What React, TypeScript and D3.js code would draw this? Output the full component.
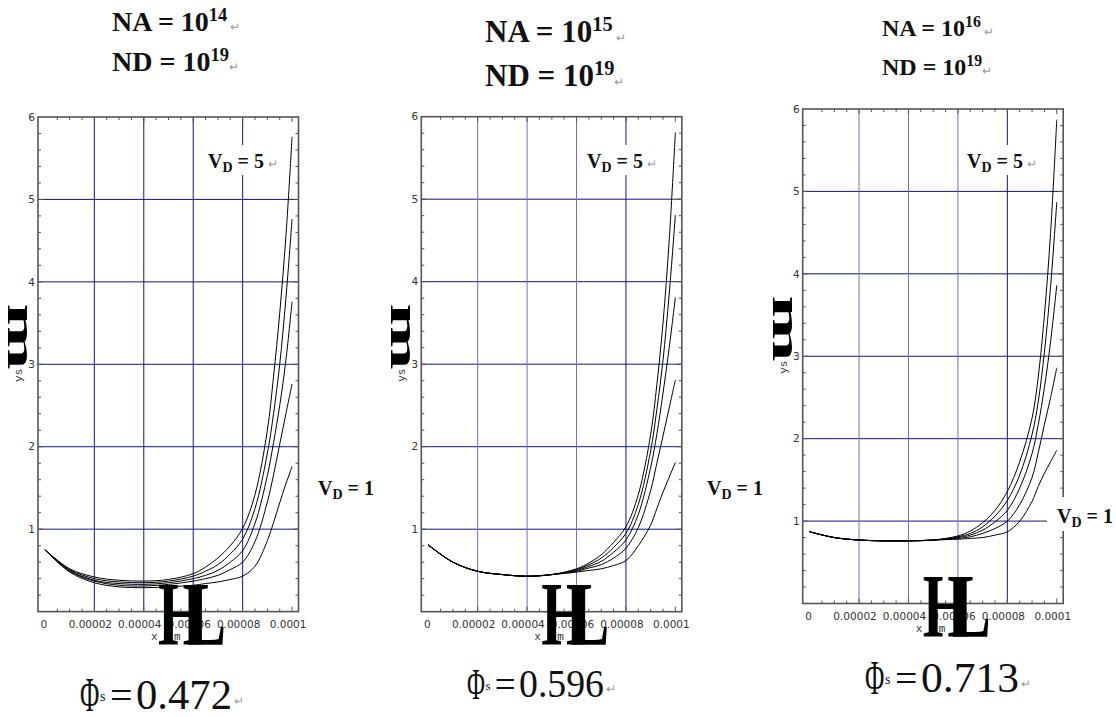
import React from 'react'
import * as d3 from 'd3'

// sample positions along x (m), shared by every curve
const xValues = [0, 0.00001, 0.00002, 0.00003, 0.00004, 0.00005, 0.00006, 0.000065, 0.00007, 0.000075, 0.00008, 0.000085, 0.00009, 0.0000925, 0.000095, 0.0000975, 0.0001]

// ys for VD = 5, 4, 3, 2, 1  (NA = 1e14)
const na14Curves = [
  [0.75, 0.52, 0.42, 0.38, 0.37, 0.39, 0.46, 0.54, 0.65, 0.80, 1.01, 1.42, 2.2, 2.85, 3.62, 4.55, 5.76],
  [0.75, 0.51, 0.40, 0.36, 0.35, 0.37, 0.43, 0.49, 0.57, 0.70, 0.88, 1.25, 1.92, 2.4, 3.0, 3.8, 4.76],
  [0.75, 0.50, 0.38, 0.34, 0.33, 0.35, 0.40, 0.44, 0.50, 0.60, 0.74, 1.07, 1.65, 2.05, 2.5, 3.05, 3.76],
  [0.75, 0.49, 0.37, 0.32, 0.31, 0.33, 0.37, 0.40, 0.44, 0.51, 0.60, 0.85, 1.33, 1.66, 2.03, 2.4, 2.76],
  [0.75, 0.48, 0.35, 0.30, 0.29, 0.30, 0.32, 0.34, 0.36, 0.39, 0.43, 0.55, 0.86, 1.08, 1.32, 1.55, 1.76]
]

// NA = 1e15
const na15Curves = [
  [0.81, 0.60, 0.49, 0.45, 0.43, 0.45, 0.52, 0.59, 0.69, 0.84, 1.03, 1.42, 2.15, 2.75, 3.5, 4.5, 5.81],
  [0.81, 0.60, 0.49, 0.45, 0.43, 0.45, 0.51, 0.57, 0.65, 0.78, 0.95, 1.3, 1.95, 2.45, 3.05, 3.85, 4.81],
  [0.81, 0.60, 0.49, 0.45, 0.43, 0.45, 0.50, 0.55, 0.61, 0.72, 0.87, 1.18, 1.75, 2.15, 2.65, 3.2, 3.81],
  [0.81, 0.60, 0.49, 0.45, 0.43, 0.45, 0.49, 0.53, 0.57, 0.65, 0.77, 1.02, 1.47, 1.8, 2.13, 2.47, 2.81],
  [0.81, 0.60, 0.49, 0.45, 0.43, 0.45, 0.48, 0.50, 0.52, 0.56, 0.62, 0.80, 1.05, 1.25, 1.45, 1.63, 1.81]
]

// NA = 1e16
const na16Curves = [
  [0.87, 0.80, 0.77, 0.76, 0.76, 0.77, 0.82, 0.88, 0.98, 1.13, 1.36, 1.72, 2.25, 2.75, 3.5, 4.5, 5.87],
  [0.87, 0.80, 0.77, 0.76, 0.76, 0.77, 0.81, 0.85, 0.93, 1.06, 1.25, 1.56, 2.05, 2.45, 3.05, 3.85, 4.87],
  [0.87, 0.80, 0.77, 0.76, 0.76, 0.77, 0.80, 0.83, 0.89, 0.99, 1.13, 1.4, 1.82, 2.17, 2.62, 3.18, 3.86],
  [0.87, 0.80, 0.77, 0.76, 0.76, 0.77, 0.79, 0.81, 0.85, 0.91, 1.0, 1.2, 1.53, 1.83, 2.17, 2.5, 2.86],
  [0.87, 0.80, 0.77, 0.76, 0.76, 0.77, 0.78, 0.79, 0.80, 0.83, 0.87, 1.0, 1.24, 1.42, 1.58, 1.72, 1.86]
]

const xTicks = [0, 0.00002, 0.00004, 0.00006, 0.00008, 0.0001]
const xTickLabels = ['0', '0.00002', '0.00004', '0.00006', '0.00008', '0.0001']
const yTicks = [1, 2, 3, 4, 5, 6]
const naExponents = ['14', '15', '16']
const ndExponent = '19'
const phiValues = ['0.472', '0.596', '0.713']

const panels = [
  { left: 38, top: 117, bottom: 611.6, curves: na14Curves, lightGrid: false,
    titleX: 112, titleY1: 31, titleY2: 71, titleSize: 28,
    vd5: { x: 208, y: 168 }, vd1: { x: 318, y: 495 }, vd1Box: false,
    phi: { x: 80, y: 709, end: 232, size: 42 } },
  { left: 421.3, top: 116.7, bottom: 611.7, curves: na15Curves, lightGrid: true,
    titleX: 485, titleY1: 42, titleY2: 86, titleSize: 31,
    vd5: { x: 587, y: 168 }, vd1: { x: 707, y: 495 }, vd1Box: false,
    phi: { x: 467, y: 697, end: 604, size: 39 } },
  { left: 802.7, top: 109, bottom: 603.5, curves: na16Curves, lightGrid: true,
    titleX: 882, titleY1: 36, titleY2: 75, titleSize: 24,
    vd5: { x: 967, y: 168 }, vd1: { x: 1057, y: 523 }, vd1Box: true,
    phi: { x: 865, y: 692, end: 1019, size: 42 } }
]

const frameW = 260.5
const navy = '#14148a'
const lightNavy = '#6f6fb8'
const frameColor = '#555'

function VLabel({ x, y, v, box }: { x: number, y: number, v: string, box?: boolean }) {
  return (
    <g>
      {box && <rect x={x - 10} y={y - 26} width={70} height={34} fill="#fff" />}
      <text x={x} y={y} fontFamily="Liberation Serif" fontWeight="bold" fontSize={20} fill="#111">
        V<tspan fontSize={14} dy={4}>D</tspan><tspan dy={-4}> = {v}</tspan>
      </text>
    </g>
  )
}

function Panel({ p, idx }: { p: any, idx: number }) {
  const right = p.left + frameW
  const x = d3.scaleLinear().domain([-0.0000028, 0.0001026]).range([p.left, right])
  const y = d3.scaleLinear().domain([0, 6]).range([p.bottom, p.top])
  const line = d3.line<number>()
    .x((_, i) => x(xValues[i]))
    .y(d => y(d))
    .curve(d3.curveCatmullRom.alpha(0.5))

  const minorX = d3.range(1, 21).map(i => i * 0.000005)
  const minorY = d3.range(1, 30).map(i => i * 0.2)
  const s = p.phi.size / 42

  return (
    <g>
      {/* titles */}
      <text x={p.titleX} y={p.titleY1} fontFamily="Liberation Serif" fontWeight="bold" fontSize={p.titleSize} fill="#111">
        NA = 10<tspan fontSize={p.titleSize * 0.66} dy={-p.titleSize * 0.36}>{naExponents[idx]}</tspan>
        <tspan fontSize={12} fontWeight="normal" fill="#999" dy={p.titleSize * 0.36}> ↵</tspan>
      </text>
      <text x={p.titleX} y={p.titleY2} fontFamily="Liberation Serif" fontWeight="bold" fontSize={p.titleSize} fill="#111">
        ND = 10<tspan fontSize={p.titleSize * 0.66} dy={-p.titleSize * 0.36}>{ndExponent}</tspan>
        <tspan fontSize={12} fontWeight="normal" fill="#999" dy={p.titleSize * 0.36}>↵</tspan>
      </text>

      {/* grid */}
      {yTicks.slice(0, 5).map(t => (
        <line key={'gy' + t} x1={p.left} x2={right} y1={y(t)} y2={y(t)} stroke={navy} strokeWidth={1} />
      ))}
      {xTicks.slice(1, 5).map((t, i) => (
        <line key={'gx' + t} x1={x(t)} x2={x(t)} y1={p.top} y2={p.bottom}
          stroke={p.lightGrid && i < 3 ? lightNavy : navy} strokeWidth={1} />
      ))}

      {/* curves */}
      {p.curves.map((c: number[], i: number) => (
        <path key={'c' + i} d={line(c) || ''} fill="none" stroke="#000" strokeWidth={1} />
      ))}

      {/* frame */}
      <rect x={p.left} y={p.top} width={frameW} height={p.bottom - p.top} fill="none" stroke={frameColor} strokeWidth={1.6} />
      {minorX.map(t => {
        const len = Math.abs(t / 0.00002 - Math.round(t / 0.00002)) < 1e-6 ? 5 : 3
        return (
          <g key={'tx' + t}>
            <line x1={x(t)} x2={x(t)} y1={p.bottom} y2={p.bottom - len} stroke={frameColor} />
            <line x1={x(t)} x2={x(t)} y1={p.top} y2={p.top + len} stroke={frameColor} />
          </g>
        )
      })}
      {minorY.map(t => {
        const len = Math.abs(t - Math.round(t)) < 1e-6 ? 5 : 3
        return (
          <g key={'ty' + t}>
            <line x1={p.left} x2={p.left + len} y1={y(t)} y2={y(t)} stroke={frameColor} />
            <line x1={right} x2={right - len} y1={y(t)} y2={y(t)} stroke={frameColor} />
          </g>
        )
      })}

      {/* tick labels */}
      {yTicks.map(t => (
        <text key={'ly' + t} x={p.left - 3} y={y(t)} dy="0.35em" textAnchor="end"
          fontFamily="DejaVu Sans" fontSize={10.5} fill="#333">{t}</text>
      ))}
      {xTicks.map((t, i) => (
        <text key={'lx' + t} x={x(t) - (i === 0 ? 1 : 4)} y={p.bottom + 16} textAnchor="middle"
          fontFamily="DejaVu Sans" fontSize={10.5} fill="#333">{xTickLabels[i]}</text>
      ))}

      {/* axis labels */}
      <text x={p.left + 113} y={p.bottom + 28} fontFamily="Liberation Mono" fontSize={11} fill="#333">x</text>
      <text x={p.left + 136} y={p.bottom + 28} fontFamily="Liberation Mono" fontSize={11} fill="#333">m</text>
      <text transform={`translate(${p.left - 16}, ${y(3) + 11}) rotate(-90)`} textAnchor="middle"
        fontFamily="Liberation Mono" fontSize={11} fill="#333">ys</text>
      <text transform={`translate(${p.left - 30}, ${y(3) - 61}) rotate(90) scale(2, 1)`}
        fontFamily="Liberation Serif" fontWeight="bold" fontSize={40} fill="#000">m</text>
      <text transform={`translate(${p.left + 120}, ${p.bottom + 33}) scale(0.65, 1)`}
        fontFamily="Liberation Serif" fontWeight="bold" fontSize={90} fill="#000">H</text>
      <text transform={`translate(${p.left + 149}, ${p.bottom + 33}) scale(0.65, 1)`}
        fontFamily="Liberation Serif" fontWeight="bold" fontSize={90} fill="#000">L</text>

      {/* VD labels */}
      <rect x={p.vd5.x - 4} y={145} width={70} height={30} fill="#fff" />
      <VLabel x={p.vd5.x} y={p.vd5.y} v="5" />
      <text x={p.vd5.x + 60} y={p.vd5.y} fontSize={12} fill="#999">↵</text>
      <VLabel x={p.vd1.x} y={p.vd1.y} v="1" box={p.vd1Box} />

      {/* surface potential */}
      <text transform={`translate(${p.phi.x}, ${p.phi.y + 2 * s}) scale(0.55, 1)`}
        fontFamily="Liberation Serif" fontSize={48 * s} fill="#111">Φ</text>
      <text x={p.phi.x + 20 * s} y={p.phi.y - 8 * s} fontFamily="Liberation Serif" fontSize={14 * s} fill="#111">s</text>
      <text x={p.phi.x + 30 * s} y={p.phi.y} fontFamily="Liberation Serif" fontSize={40 * s} fill="#111">=</text>
      <text x={p.phi.x + 56 * s} y={p.phi.y} fontFamily="Liberation Serif" fontSize={p.phi.size} fill="#111"
        textLength={p.phi.end - p.phi.x - 56 * s} lengthAdjust="spacingAndGlyphs">{phiValues[idx]}</text>
      <text x={p.phi.end + 2} y={p.phi.y - 4} fontSize={12} fill="#999">↵</text>
    </g>
  )
}

export default function App() {
  return (
    <svg width={1116} height={717} style={{ position: 'absolute', left: 0, top: 0, background: '#fff' }}>
      <rect width={1116} height={717} fill="#fff" />
      {panels.map((p, i) => <Panel key={i} p={p} idx={i} />)}
    </svg>
  )
}
